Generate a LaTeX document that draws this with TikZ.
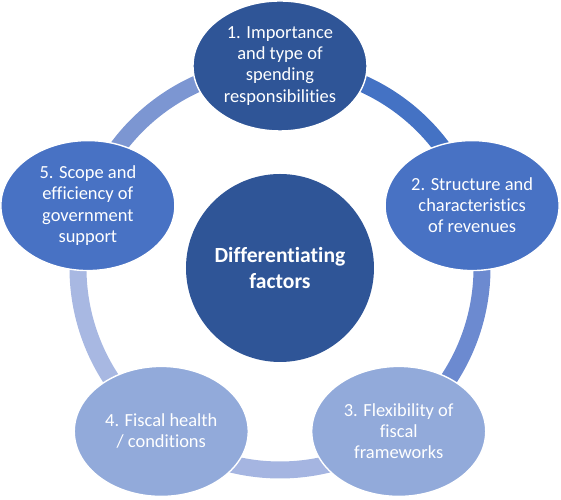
\documentclass[tikz,border=0pt]{standalone}
\usepackage{fontspec}
\setmainfont{Carlito}[Ligatures=NoCommon]
\usetikzlibrary{positioning, shapes.geometric, backgrounds}
\definecolor{darkblue}{RGB}{47,85,151}
\definecolor{midblue}{RGB}{72,114,196}
\definecolor{paleblue}{RGB}{146,170,218}
\definecolor{arcA}{RGB}{68,114,196}
\definecolor{arcB}{RGB}{108,138,208}
\definecolor{arcC}{RGB}{165,181,225}
\definecolor{arcD}{RGB}{168,184,226}
\definecolor{arcE}{RGB}{124,150,210}
\tikzstyle{factor} = [ellipse, draw=white, line width=0.8pt, text=white,
    align=center, minimum width=3.48cm, minimum height=2.6cm, inner sep=0pt,
    font=\fontsize{10.5}{12}\selectfont]
\tikzstyle{hub} = [circle, fill=darkblue, text=white, align=center,
    minimum size=3.76cm, font=\bfseries\fontsize{12.3}{14.5}\selectfont]
\tikzstyle{ring} = [line width=0.34cm]

\begin{document}
\begin{tikzpicture}
  \useasboundingbox (-5.6,-4.64) rectangle (5.62,5.36);
   % Place nodes
    \node [hub] (diff) at (0,0) {Differentiating\\factors};
    \node [factor, fill=darkblue] (imp) at (90:4.04) {1. Importance\\and type of\\spending\\responsibilities};
    \node [factor, fill=midblue] (rev) at (18:4.04) {2. Structure and\\characteristics\\of revenues};
    \node [factor, fill=paleblue] (flex) at (-54:4.04) {3. Flexibility of\\fiscal\\frameworks};
    \node [factor, fill=paleblue] (health) at (-126:4.04) {4. Fiscal health\\/ conditions};
    \node [factor, fill=midblue] (supp) at (162:4.04) {5. Scope and\\efficiency of\\government\\support};
   % Draw ring
    \begin{scope}[on background layer]
    \draw [ring, arcA] (imp.center) arc [start angle=90, end angle=18, radius=4.04cm];
    \draw [ring, arcB] (rev.center) arc [start angle=18, end angle=-54, radius=4.04cm];
    \draw [ring, arcC] (flex.center) arc [start angle=-54, end angle=-126, radius=4.04cm];
    \draw [ring, arcD] (health.center) arc [start angle=-126, end angle=-198, radius=4.04cm];
    \draw [ring, arcE] (supp.center) arc [start angle=162, end angle=90, radius=4.04cm];
    \end{scope}
\end{tikzpicture}
\end{document}
